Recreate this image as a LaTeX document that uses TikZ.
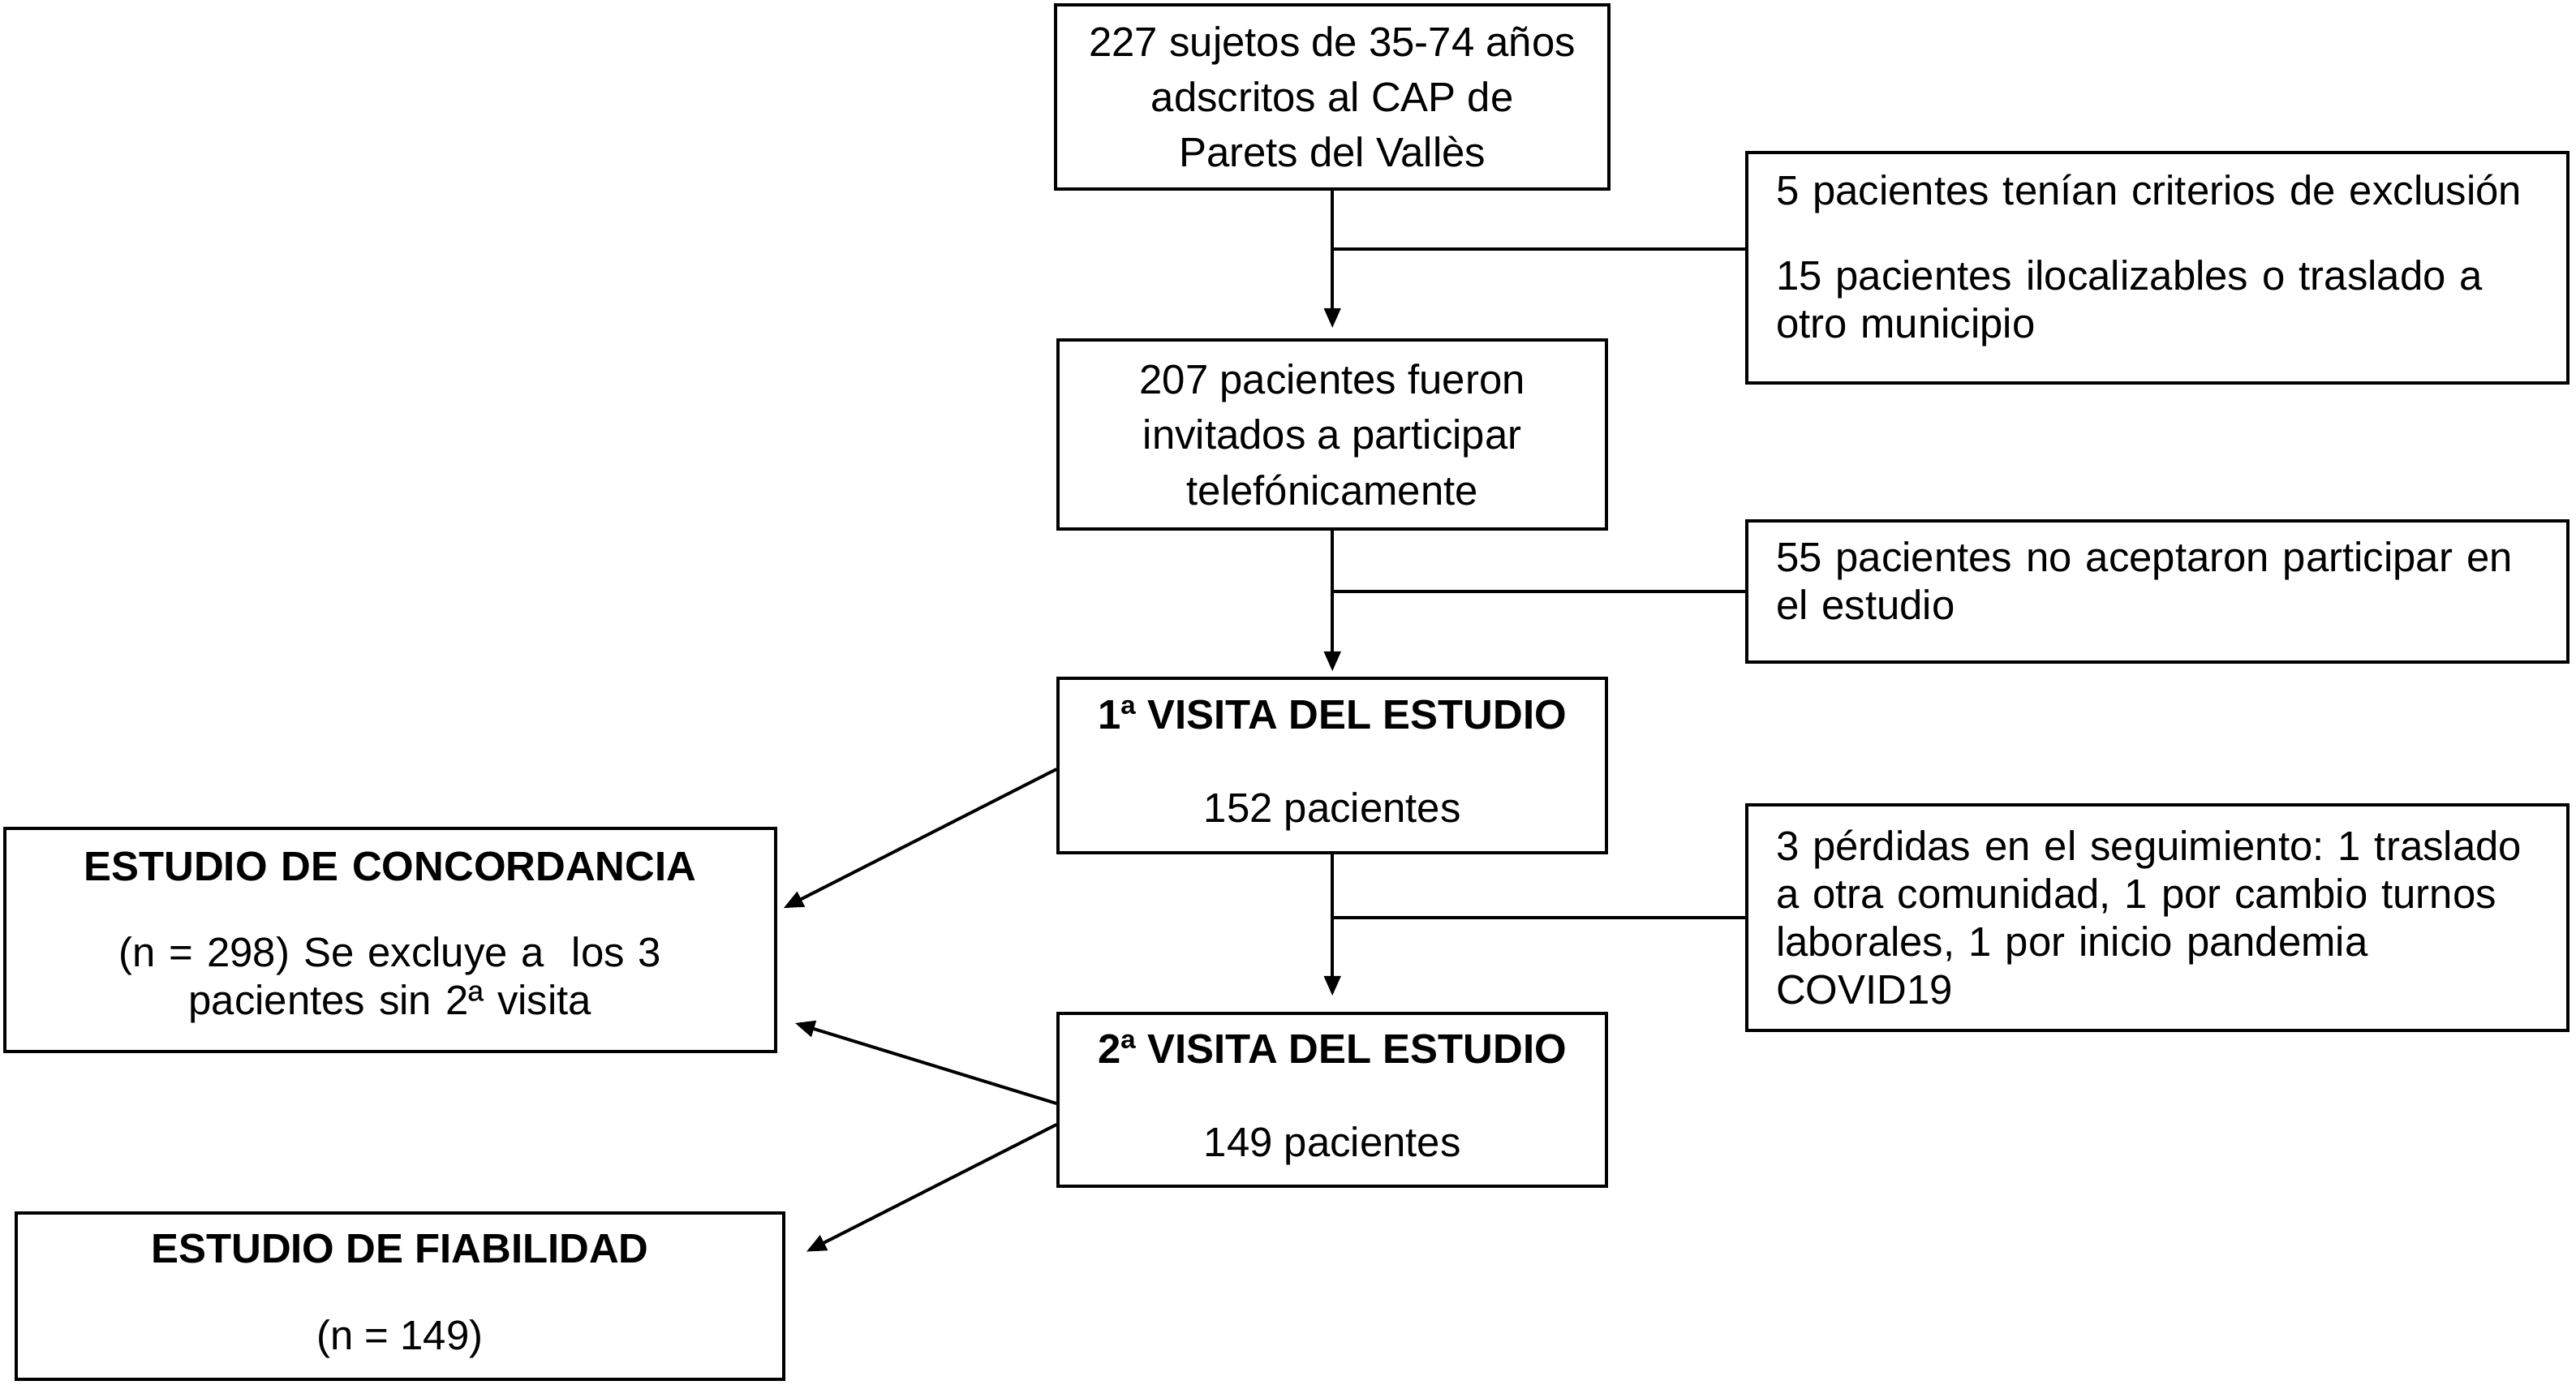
\documentclass[tikz,border=0pt]{standalone}
\usepackage{fontspec}
\setmainfont{Liberation Sans}
\usetikzlibrary{arrows.meta,calc}
\newcommand{\dropstrut}[1]{\rule[-#1]{0pt}{#1}}
\begin{document}
\frenchspacing
\begin{tikzpicture}[x=0.02cm,y=-0.02cm,
  box/.style={draw,line width=1.1pt,rectangle,inner sep=0pt,align=center,font=\frenchspacing\fontsize{14.3}{19.2}\selectfont},
  tbox/.style={box,font=\frenchspacing\fontsize{14.3}{16.6}\selectfont},
  lbox/.style={tbox,align=left,text width=9.28cm,inner xsep=0.36cm},
  arr/.style={line width=1.1pt,-{Triangle[length=0.24cm,width=0.2cm]}},
  ln/.style={line width=1.1pt}]
\useasboundingbox[fill=white] (0,0) rectangle (1568,843);
% central column
\node[box,minimum width=6.74cm,minimum height=2.24cm] (A) at (811,59) {227 sujetos de 35-74 años\\adscritos al CAP de\\Parets del Vallès};
\node[box,minimum width=6.68cm,minimum height=2.3cm] (B) at (811,264.5) {207 pacientes fueron\\invitados a participar\\telefónicamente};
\node[box,minimum width=6.68cm,minimum height=2.12cm] (C) at (811,466) {\textbf{1ª VISITA DEL ESTUDIO}\\[13pt]152 pacientes};
\node[box,minimum width=6.68cm,minimum height=2.1cm] (D) at (811,669.5) {\textbf{2ª VISITA DEL ESTUDIO}\\[13pt]149 pacientes};
% right column
\node[lbox,minimum height=2.8cm] (E) at (1313,163) {5 pacientes tenían criterios de exclusión\\[12.9pt]15 pacientes ilocalizables o traslado a\\otro municipio\dropstrut{0.28cm}};
\node[lbox,minimum height=1.72cm] (F) at (1313,360) {55 pacientes no aceptaron participar en\\el estudio\dropstrut{0.26cm}};
\node[lbox,minimum height=2.74cm] (G) at (1313,558.5) {3 pérdidas en el seguimiento: 1 traslado\\a otra comunidad, 1 por cambio turnos\\laborales, 1 por inicio pandemia\\COVID19};
% left column
\node[tbox,text width=9.38cm,minimum height=2.72cm] (H) at (237.5,572) {\textbf{ESTUDIO DE CONCORDANCIA}\\[13.4pt](n = 298) Se excluye a \ los 3\\pacientes sin 2ª visita\dropstrut{0.16cm}};
\node[box,minimum width=9.34cm,minimum height=2.02cm] (I) at (243.5,789) {\textbf{ESTUDIO DE FIABILIDAD}\\[10.8pt](n = 149)};
% vertical arrows
\draw[arr,shorten >=0.13cm] (A.south) -- (B.north);
\draw[arr,shorten >=0.07cm] (B.south) -- (C.north);
\draw[arr,shorten >=0.2cm] (C.south) -- (D.north);
% side branches
\coordinate (e1) at ($(E.north west)!0.42!(E.south west)$);
\draw[ln] (e1) -- (e1 -| A.south);
\draw[ln] (F.west) -- (F.west -| B.south);
\draw[ln] (G.west) -- (G.west -| C.south);
% diagonal arrows
\coordinate (c1) at ($(C.north west)!0.52!(C.south west)$);
\coordinate (d1) at ($(D.north west)!0.52!(D.south west)$);
\coordinate (d2) at ($(D.north west)!0.64!(D.south west)$);
\coordinate (h1) at ($(H.north east)!0.375!(H.south east)$);
\coordinate (h2) at ($(H.north east)!0.843!(H.south east)$);
\coordinate (i1) at ($(I.north east)!0.30!(I.south east)$);
\draw[arr,shorten >=0.09cm] (c1) -- (h1);
\draw[arr,shorten >=0.23cm] (d1) -- (h2);
\draw[arr,shorten >=0.29cm] (d2) -- (i1);
\end{tikzpicture}
\end{document}
